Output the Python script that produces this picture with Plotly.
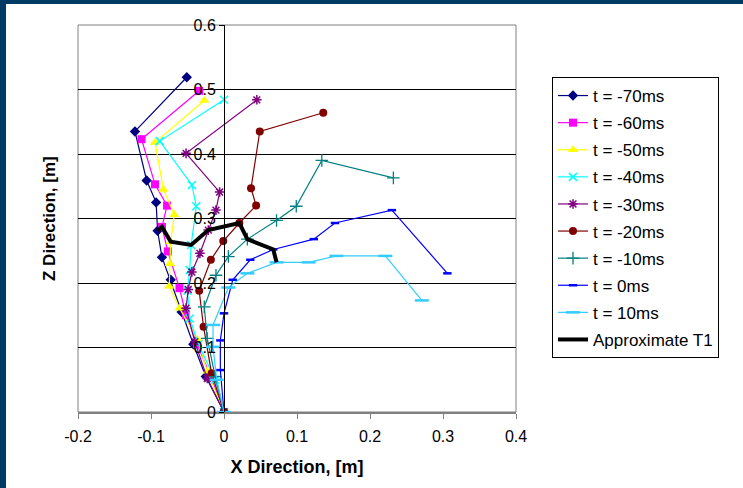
import plotly.graph_objects as go

# ---- data (bottom point first) ----
series_names = ["t = -70ms", "t = -60ms", "t = -50ms", "t = -40ms", "t = -30ms",
                "t = -20ms", "t = -10ms", "t = 0ms", "t = 10ms"]

t_m70_x = [0, -0.025, -0.042, -0.058, -0.073, -0.085, -0.091, -0.093, -0.106, -0.122, -0.051]
t_m70_z = [0, 0.055, 0.105, 0.155, 0.205, 0.240, 0.281, 0.325, 0.359, 0.435, 0.519]

t_m60_x = [0, -0.018, -0.037, -0.052, -0.061, -0.077, -0.085, -0.078, -0.0945, -0.113, -0.034]
t_m60_z = [0, 0.055, 0.105, 0.150, 0.192, 0.249, 0.287, 0.320, 0.353, 0.423, 0.498]

t_m50_x = [0, -0.023, -0.036, -0.061, -0.075, -0.074, -0.073, -0.068, -0.083, -0.0945, -0.027]
t_m50_z = [0, 0.063, 0.112, 0.161, 0.195, 0.230, 0.264, 0.306, 0.345, 0.418, 0.483]

t_m40_x = [0, -0.012, -0.035, -0.047, -0.050, -0.047, -0.045, -0.038, -0.044, -0.088, 0.0]
t_m40_z = [0, 0.050, 0.105, 0.145, 0.188, 0.220, 0.259, 0.319, 0.352, 0.420, 0.484]

t_m30_x = [0, -0.023, -0.040, -0.052, -0.049, -0.044, -0.033, -0.0215, -0.011, -0.006, -0.052, 0.045]
t_m30_z = [0, 0.052, 0.109, 0.161, 0.190, 0.217, 0.246, 0.282, 0.313, 0.341, 0.401, 0.484]

t_m20_x = [0, -0.017, -0.028, -0.034, -0.018, -0.001, 0.021, 0.044, 0.037, 0.049, 0.136]
t_m20_z = [0, 0.060, 0.132, 0.188, 0.236, 0.265, 0.293, 0.320, 0.347, 0.435, 0.464]

t_m10_x = [0, -0.012, -0.023, -0.027, -0.011, 0.006, 0.032, 0.072, 0.099, 0.134, 0.232]
t_m10_z = [0, 0.055, 0.114, 0.163, 0.212, 0.241, 0.268, 0.297, 0.319, 0.390, 0.363]

t_0_x = [0, -0.005, -0.005, 0.0, 0.012, 0.036, 0.0675, 0.123, 0.152, 0.230, 0.306]
t_0_z = [0, 0.065, 0.111, 0.153, 0.205, 0.236, 0.252, 0.268, 0.293, 0.313, 0.215]

t_10_x = [0, -0.010, -0.015, -0.015, 0.006, 0.032, 0.072, 0.116, 0.154, 0.221, 0.271]
t_10_z = [0, 0.050, 0.101, 0.135, 0.193, 0.215, 0.232, 0.232, 0.242, 0.242, 0.173]

t1_name = "Approximate T1"
t1_x = [-0.091, -0.085, -0.073, -0.045, -0.0215, 0.021, 0.032, 0.0675, 0.072]
t1_z = [0.281, 0.287, 0.264, 0.259, 0.282, 0.293, 0.268, 0.252, 0.232]

x_tick_vals = [-0.2, -0.1, 0, 0.1, 0.2, 0.3, 0.4]
x_tick_text = ["-0.2", "-0.1", "0", "0.1", "0.2", "0.3", "0.4"]
z_tick_vals = [0, 0.1, 0.2, 0.3, 0.4, 0.5, 0.6]
z_tick_text = ["0", "0.1", "0.2", "0.3", "0.4", "0.5", "0.6"]

# ---- styles ----
xs = [t_m70_x, t_m60_x, t_m50_x, t_m40_x, t_m30_x, t_m20_x, t_m10_x, t_0_x, t_10_x]
zs = [t_m70_z, t_m60_z, t_m50_z, t_m40_z, t_m30_z, t_m20_z, t_m10_z, t_0_z, t_10_z]
colors = ["#000080", "#FF00FF", "#FFFF00", "#00FFFF", "#800080",
          "#800000", "#008080", "#0000FF", "#33CCFF"]
symbols = ["diamond", "square", "triangle-up", "x-thin", "asterisk",
           "circle", "cross-thin", "line-ew", "line-ew"]
sizes = [8, 8, 9, 8, 8, 8, 9, 6, 10]
mline = [0, 0, 0, 1.5, 1.5, 0, 1.3, 2.5, 2.5]

FONT = "Liberation Sans, Arial, sans-serif"

fig = go.Figure()
for i in range(len(series_names)):
    fig.add_trace(go.Scatter(
        x=xs[i], y=zs[i], name=series_names[i], mode="lines+markers",
        legendgroup=series_names[i],
        line=dict(color=colors[i], width=1.2),
        marker=dict(symbol=symbols[i], size=sizes[i], color=colors[i],
                    line=dict(width=mline[i], color=colors[i])),
    ))
fig.add_trace(go.Scatter(
    x=t1_x, y=t1_z, name=t1_name, mode="lines", legendgroup=t1_name,
    line=dict(color="black", width=4),
))

FRAME = "#003B63"
shapes = [
    dict(type="rect", xref="paper", yref="paper", x0=0, x1=1, y0=0, y1=1,
         line=dict(color="#808080", width=1), layer="below"),
    dict(type="rect", xref="paper", yref="paper",
         x0=-78 / 438, x1=-72 / 438, y0=-76 / 387, y1=25 / 387 + 1,
         fillcolor=FRAME, line=dict(width=0)),
    dict(type="rect", xref="paper", yref="paper",
         x0=-78 / 438, x1=665 / 438, y0=21 / 387 + 1, y1=25 / 387 + 1,
         fillcolor=FRAME, line=dict(width=0)),
]

fig.update_layout(
    width=743, height=488,
    margin=dict(l=78, r=227, t=25, b=76),
    paper_bgcolor="white", plot_bgcolor="white",
    font=dict(family=FONT, size=16, color="black"),
    showlegend=True,
    legend=dict(x=474 / 438, y=(412 - 77) / 387, xanchor="left", yanchor="top",
                bordercolor="#000000", borderwidth=1, bgcolor="white",
                font=dict(family=FONT, size=17, color="black"),
                tracegroupgap=2),
    xaxis=dict(range=[-0.2, 0.4], tickvals=x_tick_vals, ticktext=x_tick_text,
               showgrid=False, zeroline=False, showline=True,
               linecolor="#808080", linewidth=2,
               ticks="outside", ticklen=5, tickcolor="#808080", tickwidth=1,
               ticklabelstandoff=4,
               tickfont=dict(size=16),
               title=dict(text="<b>X Direction, [m]</b>", font=dict(size=18), standoff=16)),
    yaxis=dict(range=[0, 0.6], tickvals=z_tick_vals, ticktext=z_tick_text,
               anchor="free", position=1 / 3,
               showgrid=True, gridcolor="black", gridwidth=1, zeroline=False,
               showline=True, linecolor="black", linewidth=1,
               ticks="outside", ticklen=5, tickcolor="black",
               tickfont=dict(size=16)),
    shapes=shapes,
    annotations=[dict(text="<b>Z Direction, [m]</b>", xref="paper", yref="paper",
                      x=-40 / 438, y=0.5, textangle=-90, showarrow=False,
                      font=dict(family=FONT, size=17, color="black"))],
)

fig.write_html("out.html")
